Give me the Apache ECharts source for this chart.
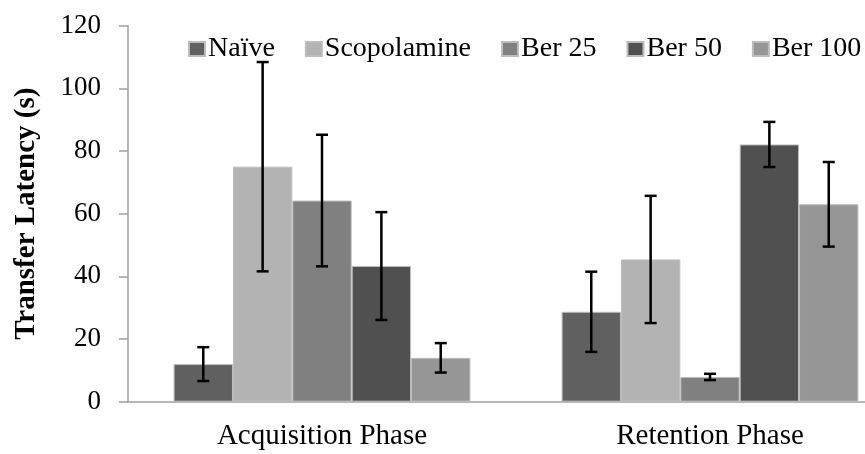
<!DOCTYPE html>
<html>
<head>
<meta charset="utf-8">
<script src="https://cdn.jsdelivr.net/npm/echarts@6/dist/echarts.min.js"></script>
<style>
  html, body { margin: 0; padding: 0; background: #fff; }
  #chart { width: 865px; height: 454px; }
</style>
</head>
<body>
<div id="chart"></div>
<script>
// values (mean ± error)
const phases = ['Acquisition Phase', 'Retention Phase'];
const groups = ['Naïve', 'Scopolamine', 'Ber 25', 'Ber 50', 'Ber 100'];
const naive = [12.0, 28.7];
const naiveErr = [5.4, 12.8];
const scopolamine = [75.0, 45.4];
const scopolamineErr = [33.4, 20.3];
const ber25 = [64.2, 7.9];
const ber25Err = [21.0, 1.0];
const ber50 = [43.3, 82.1];
const ber50Err = [17.2, 7.2];
const ber100 = [14.0, 63.0];
const ber100Err = [4.7, 13.5];
const yTicks = [0, 20, 40, 60, 80, 100, 120];

const means = [naive, scopolamine, ber25, ber50, ber100];
const errs = [naiveErr, scopolamineErr, ber25Err, ber50Err, ber100Err];
const colors = ['#606060', '#b3b3b3', '#808080', '#505050', '#969696'];
const catGap = 0.235;
const font = '"Liberation Serif", "Times New Roman", serif';

const errData = [];
means.forEach((m, g) => {
  m.forEach((v, c) => errData.push([c, v, errs[g][c], g]));
});

const chart = echarts.init(document.getElementById('chart'));

chart.setOption({
  animation: false,
  backgroundColor: '#fff',
  textStyle: { fontFamily: font, color: '#000' },
  legend: {
    left: 183,
    top: 30,
    width: 720,
    icon: 'rect',
    itemWidth: 16,
    itemHeight: 14,
    itemGap: 30,
    textStyle: { fontFamily: font, fontSize: 28, color: '#000', padding: [0, 0, 0, -2] },
    data: groups,
  },
  // the plot runs past the right edge, as in the cropped original
  grid: {
    left: 128,
    width: 776,
    top: 25.7,
    bottom: 52.3,
    containLabel: false,
    outerBoundsMode: 'none',
  },
  xAxis: {
    type: 'category',
    data: phases,
    axisLine: { lineStyle: { color: '#a0a0a0', width: 1.5 } },
    axisTick: { length: 9, lineStyle: { color: '#a0a0a0', width: 1.5 } },
    axisLabel: { fontFamily: font, fontSize: 29, color: '#000', margin: 20 },
  },
  yAxis: {
    type: 'value',
    min: 0,
    max: yTicks[yTicks.length - 1],
    interval: yTicks[1] - yTicks[0],
    name: 'Transfer Latency (s)',
    nameLocation: 'middle',
    nameGap: 87,
    nameTextStyle: { fontFamily: font, fontSize: 29, fontWeight: 'bold', color: '#000' },
    axisLine: { show: true, lineStyle: { color: '#a0a0a0', width: 1.5 } },
    axisTick: { show: true, length: 9, lineStyle: { color: '#a0a0a0', width: 1.5 } },
    axisLabel: { fontFamily: font, fontSize: 27, color: '#000', margin: 27 },
    splitLine: { show: false },
  },
  series: [
    ...groups.map((name, g) => ({
      name,
      type: 'bar',
      data: means[g],
      barGap: 0,
      barCategoryGap: (catGap * 100) + '%',
      itemStyle: { color: colors[g], borderColor: '#bdbdbd', borderWidth: 1 },
    })),
    {
      type: 'custom',
      z: 10,
      data: errData,
      encode: { x: 0, y: 1 },
      renderItem(params, api) {
        const c = api.value(0);
        const m = api.value(1);
        const e = api.value(2);
        const g = api.value(3);
        const band = api.size([1, 0])[0];
        const bw = band * (1 - catGap) / groups.length;
        const x = api.coord([c, m])[0] + (g - 2) * bw;
        const yTop = api.coord([c, m + e])[1];
        const yBot = api.coord([c, m - e])[1];
        const cap = 6;
        const style = { stroke: '#000', lineWidth: 2.5 };
        return {
          type: 'group',
          children: [
            { type: 'line', shape: { x1: x, y1: yTop, x2: x, y2: yBot }, style },
            { type: 'line', shape: { x1: x - cap, y1: yTop, x2: x + cap, y2: yTop }, style },
            { type: 'line', shape: { x1: x - cap, y1: yBot, x2: x + cap, y2: yBot }, style },
          ],
        };
      },
    },
  ],
});
</script>
</body>
</html>
